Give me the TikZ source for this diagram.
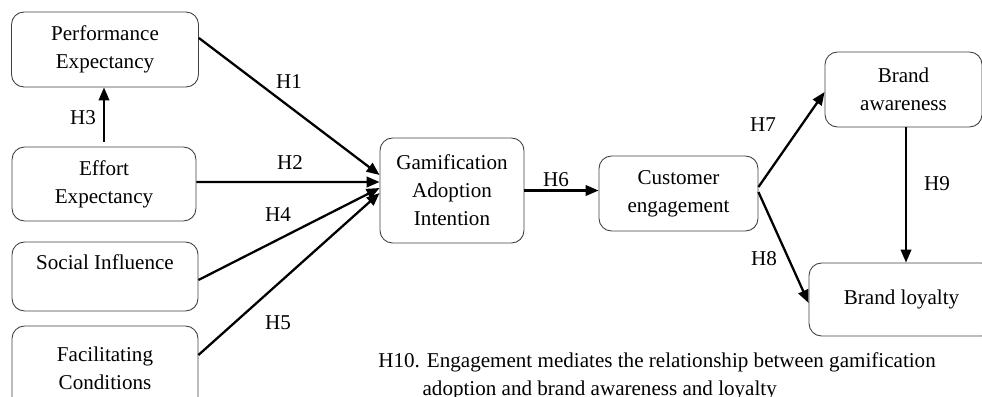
\documentclass[tikz,border=0pt]{standalone}
\usepackage{fontspec}
\setmainfont{Liberation Serif}
\usetikzlibrary{arrows.meta}

\tikzset{
    box/.style={rectangle, draw=black!75, line width=0.5pt, rounded corners=0.25cm, align=center, inner sep=0pt, font=\fontsize{12}{16}\selectfont},
    link/.style={-{Triangle[length=0.26cm,width=0.21cm]}, line width=1.3pt},
    hyp/.style={inner sep=0pt, font=\fontsize{12}{14}\selectfont}
}

\begin{document}
\begin{tikzpicture}[x=0.02cm, y=-0.02cm]
    \clip (0,0) rectangle (982,396);
    % constructs
    \node(perf) [box, minimum width=3.74cm, minimum height=1.5cm] at (105,49.5) {Performance\\Expectancy};
    \node(eff) [box, minimum width=3.68cm, minimum height=1.48cm] at (104,184) {Effort\\Expectancy};
    \node(soc) [box, minimum width=3.72cm, minimum height=1.38cm] at (105,276.5) {Social Influence\\\mbox{}};
    \node(fac) [box, minimum width=3.72cm, minimum height=1.68cm] at (105,368) {Facilitating\\Conditions};
    \node(gai) [box, minimum width=2.88cm, minimum height=2.1cm] at (452,190.5) {Gamification\\Adoption\\Intention};
    \node(cust) [box, minimum width=3.18cm, minimum height=1.5cm] at (678.5,193.5) {Customer\\engagement};
    \node(aware) [box, minimum width=3.14cm, minimum height=1.5cm] at (903.5,89.5) {Brand\\awareness};
    \node(loyal) [box, minimum width=3.7cm, minimum height=1.46cm] at (901.5,299.5) {Brand loyalty};

    % paths
    \draw[link] ([yshift=0.23cm]perf.east) -- ([yshift=0.31cm]gai.west);
    \draw[link] ([yshift=0.04cm]eff.east) -- ([yshift=0.17cm]gai.west);
    \draw[link, shorten <=0.1cm] (eff.north) -- (eff.north |- perf.south);
    \draw[link] ([yshift=-0.07cm]soc.east) -- ([yshift=0.05cm]gai.west);
    \draw[link] ([yshift=0.26cm]fac.east) -- ([yshift=-0.05cm]gai.west);
    \draw[link] (gai.east) -- (gai.east -| cust.west);
    \draw[link] ([yshift=0.13cm]cust.east) -- ([yshift=-0.05cm]aware.west);
    \draw[link] ([yshift=0.03cm]cust.east) -- ([yshift=-0.07cm]loyal.west);
    \draw[link] ([xshift=0.05cm]aware.south) -- ([xshift=0.05cm]aware.south |- loyal.north);

    % hypotheses
    \node(h1) [hyp] at (289,82) {H1};
    \node(h2) [hyp] at (290,163) {H2};
    \node(h3) [hyp] at (83,118) {H3};
    \node(h4) [hyp] at (278,215) {H4};
    \node(h5) [hyp] at (278,323) {H5};
    \node(h6) [hyp] at (556,180) {H6};
    \node(h7) [hyp] at (763,125) {H7};
    \node(h8) [hyp] at (764,259) {H8};
    \node(h9) [hyp] at (937,184) {H9};
    \node(h10) [anchor=base west, inner sep=0pt, align=left, font=\fontsize{12}{15.9}\selectfont] at (378,395) {H10. Engagement mediates the relationship between gamification\\\hspace*{2.1em}adoption and brand awareness and loyalty};
\end{tikzpicture}
\end{document}
